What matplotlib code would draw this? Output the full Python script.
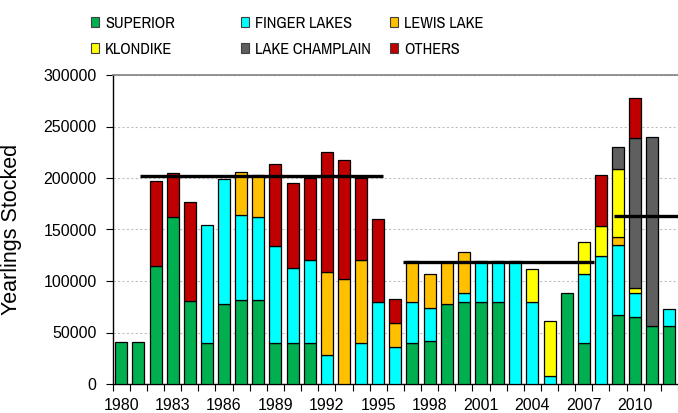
import matplotlib
matplotlib.use("Agg")
import matplotlib.pyplot as plt
from matplotlib.patches import Patch
from matplotlib import font_manager
import numpy as np

years = list(range(1980, 2013))

superior = [41000, 41000, 115000, 162000, 81000, 40000, 78000, 82000, 82000, 40000,
            40000, 40000, 0, 0, 0, 0, 0, 40000, 42000, 78000,
            80000, 80000, 80000, 0, 0, 0, 88000, 40000, 0, 67000,
            65000, 56000, 56000]
finger_lakes = [0, 0, 0, 0, 0, 114000, 121000, 82000, 80000, 94000,
                72500, 80000, 28000, 0, 40000, 80000, 36000, 40000, 32000, 0,
                8000, 39000, 39000, 119000, 80000, 7500, 0, 67000, 124000, 68000,
                23000, 0, 16500]
lewis_lake = [0, 0, 0, 0, 0, 0, 0, 41500, 41000, 0,
              0, 0, 80700, 102000, 80000, 0, 23500, 39000, 33000, 40000,
              40000, 0, 0, 0, 0, 0, 0, 0, 0, 7400,
              0, 0, 0]
klondike = [0, 0, 0, 0, 0, 0, 0, 0, 0, 0,
            0, 0, 0, 0, 0, 0, 0, 0, 0, 0,
            0, 0, 0, 0, 32000, 53500, 0, 31000, 29000, 66000,
            5200, 0, 0]
lake_champlain = [0, 0, 0, 0, 0, 0, 0, 0, 0, 0,
                  0, 0, 0, 0, 0, 0, 0, 0, 0, 0,
                  0, 0, 0, 0, 0, 0, 0, 0, 0, 21300,
                  146000, 184100, 0]
others = [0, 0, 82000, 42500, 95700, 0, 0, 0, 0, 79600,
          82500, 80000, 116300, 115000, 80000, 80000, 23500, 0, 0, 0,
          0, 0, 0, 0, 0, 0, 0, 0, 50000, 0,
          38500, 0, 0]

series_names = ["SUPERIOR", "FINGER LAKES", "LEWIS LAKE",
                "KLONDIKE", "LAKE CHAMPLAIN", "OTHERS"]
series_values = [superior, finger_lakes, lewis_lake,
                 klondike, lake_champlain, others]
series_colors = ["#00B050", "#00FFFF", "#FFC000", "#FFFF00", "#5F5F5F", "#C00000"]

# period averages: (start, end, level)
avg_start = [1981.1, 1996.45, 2008.75]
avg_end = [1995.3, 2007.6, 2013.0]
avg_level = [202000, 118000, 163500]

ytick_values = [0, 50000, 100000, 150000, 200000, 250000, 300000]
xtick_years = list(range(1980, 2011, 3))


def pick_font(names):
    found = []
    for n in names:
        try:
            font_manager.findfont(n, fallback_to_default=False)
            found.append(n)
        except Exception:
            pass
    return found + ["DejaVu Sans"]


def find_narrow():
    # look for a condensed sans face among the installed fonts
    for f in font_manager.fontManager.ttflist:
        name = f.name
        if ("Narrow" in name or "Condensed" in name) and "Mono" not in name \
                and "Serif" not in name and f.style == "normal" \
                and f.weight in (400, "normal", "regular"):
            return name, f.stretch
    for f in font_manager.fontManager.ttflist:
        if f.stretch in ("condensed", "semi-condensed") and "Sans" in f.name \
                and "Mono" not in f.name and f.style == "normal" \
                and f.weight in (400, "normal", "regular"):
            return f.name, f.stretch
    return None, None


main_font = pick_font(["Liberation Sans", "Arial"])
plt.rcParams["font.family"] = main_font

narrow_name, narrow_stretch = find_narrow()
if narrow_name is not None:
    legend_prop = font_manager.FontProperties(family=[narrow_name, "DejaVu Sans"],
                                              stretch=narrow_stretch, size=11.8)
else:
    legend_prop = font_manager.FontProperties(family=main_font, size=10.5)

W, H = 678, 413
fig = plt.figure(figsize=(W / 100, H / 100), dpi=100)
left_px, right_px, top_px, bottom_px = 112.7, 678, 75, 384
ax = fig.add_axes([left_px / W, 1 - bottom_px / H,
                   (right_px - left_px) / W, (bottom_px - top_px) / H])

x = np.array(years, dtype=float)
bottom = np.zeros(len(years))
for name, vals, col in zip(series_names, series_values, series_colors):
    v = np.array(vals, dtype=float)
    mask = v > 0
    ax.bar(x[mask], v[mask], width=0.7, bottom=bottom[mask], color=col,
           edgecolor="black", linewidth=0.9, zorder=3)
    bottom += v

for s, e, lvl in zip(avg_start, avg_end, avg_level):
    ax.plot([s, e], [lvl, lvl], color="black", linewidth=2.4,
            solid_capstyle="butt", zorder=5)

ax.set_xlim(1979.5, 1979.5 + (right_px - left_px) / 17.34)
ax.set_ylim(0, 300000)

ax.set_yticks(ytick_values)
ax.set_yticklabels([str(v) for v in ytick_values], fontsize=11.5)
ax.yaxis.grid(True, linestyle=(0, (2, 2)), color="#C0C0C0", linewidth=0.8, zorder=0)
ax.set_axisbelow(True)

ax.set_xticks(xtick_years)
ax.set_xticklabels([str(y) for y in xtick_years], fontsize=11.5)
ax.set_xticks(np.arange(1979.5, 2013, 1.0), minor=True)
ax.tick_params(axis="x", which="major", length=0, pad=10)
ax.tick_params(axis="x", which="minor", length=5, width=0.8, direction="out")
ax.tick_params(axis="y", length=5, width=0.8, pad=6.5, direction="out")

for side in ["left", "bottom"]:
    ax.spines[side].set_color("black")
    ax.spines[side].set_linewidth(1.0)
ax.spines["top"].set_color("#808080")
ax.spines["top"].set_linewidth(1.2)
ax.spines["right"].set_visible(False)

ax.set_ylabel("Yearlings Stocked", fontsize=15.5)
ax.yaxis.set_label_coords(-(left_px - 22) / (right_px - left_px), 0.5)

# legend: three columns of two entries
col_x = [91, 241, 390]
for c in range(3):
    handles = []
    for r in range(2):
        i = r * 3 + c
        handles.append(Patch(facecolor=series_colors[i], edgecolor="#404040",
                             linewidth=0.8, label=series_names[i]))
    fig.legend(handles=handles, loc="upper left",
               bbox_to_anchor=(col_x[c] / W, 1 - 16 / H),
               frameon=False, handlelength=0.5, handleheight=0.6,
               handletextpad=0.35, labelspacing=0.65, borderpad=0,
               borderaxespad=0, prop=legend_prop)

fig.savefig("out.png", dpi=100)
